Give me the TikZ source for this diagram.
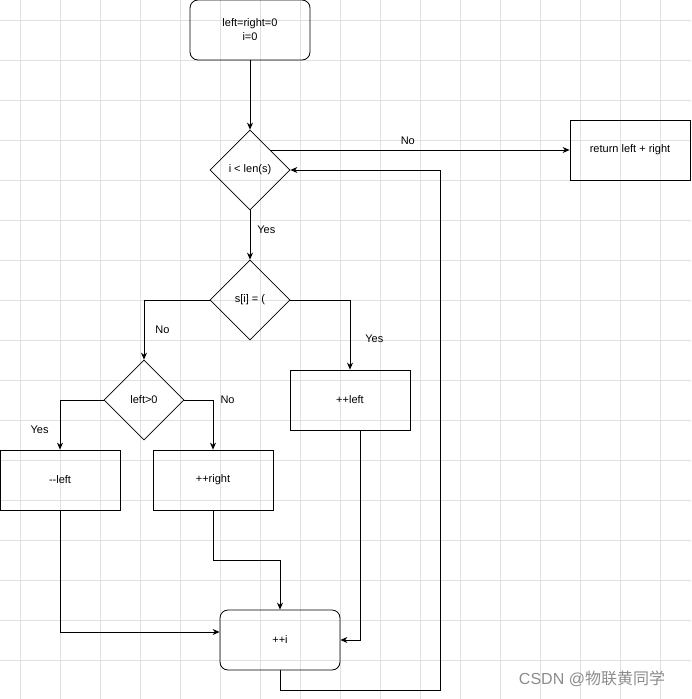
\documentclass[tikz,border=0pt]{standalone}
\usepackage{fontspec}
\setmainfont{Liberation Sans}
\newfontfamily\cjk{Noto Sans CJK SC}
\usetikzlibrary{shapes.geometric,arrows.meta}
\begin{document}
\begin{tikzpicture}[x=1pt,y=-1pt,
  every node/.style={font=\fontsize{11}{14}\selectfont},
  box/.style={draw,line width=0.8pt,minimum width=120pt,minimum height=60pt,inner sep=0pt,align=center},
  rbox/.style={box,rounded corners=8pt},
  dia/.style={draw,line width=0.8pt,diamond,minimum width=80pt,minimum height=80pt,inner sep=0pt},
  ed/.style={draw,line width=0.8pt,-{Stealth[length=7pt,width=6pt]}},
  lbl/.style={inner sep=1pt}]
\useasboundingbox (0,0) rectangle (691,699);
\foreach \g in {20,60,...,690} {
  \draw[black!12,line width=0.5pt] (\g,0) -- (\g,699);
  \draw[black!12,line width=0.5pt] (0,\g) -- (691,\g);
}
\node[rbox] (start) at (250,30) {left=right=0\\i=0};
\node[dia] (d1) at (250,170) {i < len(s)};
\node[box] (ret) at (630,150) {return left + right};
\node[dia] (d2) at (250,300) {s[i] = (};
\node[dia] (d3) at (144,400) {left>0};
\node[box] (pl) at (350,400) {++left};
\node[box] (ml) at (60,480) {-{}-left};
\node[box] (pr) at (213,480) {++right};
\node[rbox] (pi) at (280,640) {++i};
\coordinate (l1) at (280,690);
\coordinate (l2) at (440,690);
\coordinate (l3) at (440,170);
\coordinate (r1) at (213,560);
\coordinate (r2) at (280,560);
\draw[ed] (start) -- (d1);
\draw[ed] (270,150) -- (ret.west) node[lbl,pos=0.46,above=4pt] {No};
\draw[ed] (pi.south) -- (l1) -- (l2) -- (l3) -- (d1.east);
\draw[ed] (d1) -- (d2) node[lbl,pos=0.4,right=6pt] {Yes};
\draw[ed] (d2.west) -| (d3.north) node[lbl,pos=0.75,right=10pt] {No};
\draw[ed] (d2.east) -| (pl.north) node[lbl,pos=0.78,right=14pt] {Yes};
\draw[ed] (d3.west) -| (ml.north) node[lbl,pos=0.8,left=10pt] {Yes};
\draw[ed] (d3.east) -| (pr.north) node[lbl,pos=0.45,right=9pt] {No};
\draw[ed] (ml.south) |- ([yshift=8pt]pi.west);
\draw[ed] (pr.south) -- (r1) -- (r2) -- (pi.north);
\draw[ed] ([xshift=10pt]pl.south) |- (pi.east);
\node[text=black!45,font=\fontsize{16}{18}\selectfont] (wm) at (592,679) {CSDN @{\cjk 物联黄同学}};
\end{tikzpicture}
\end{document}
